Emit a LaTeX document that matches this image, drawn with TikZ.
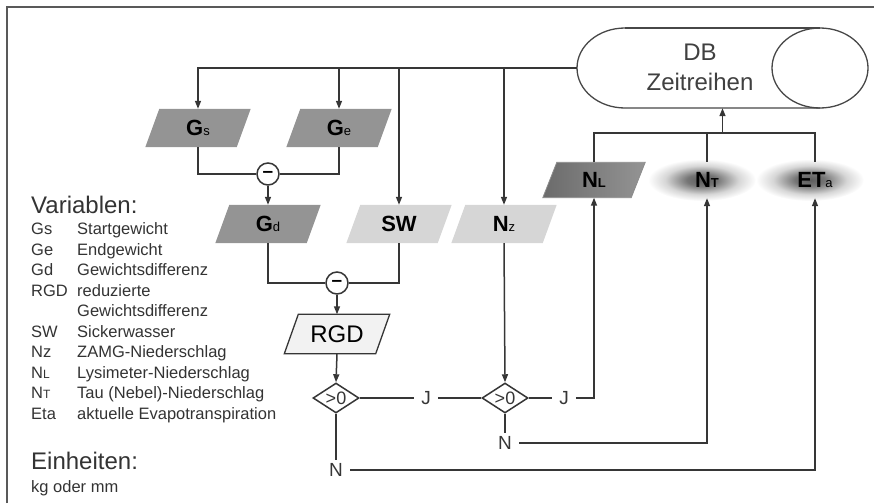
\documentclass[tikz,border=0pt]{standalone}
\usepackage{fontspec}
\setmainfont{Liberation Sans}
\usetikzlibrary{shapes.geometric,arrows.meta,calc}
\definecolor{ln}{HTML}{363636}
\newcommand\smallsub[1]{{\fontsize{13}{13}\selectfont #1}}
\pgfdeclareradialshading{blob}{\pgfpoint{0bp}{0bp}}{color(0bp)=(black!64); color(7bp)=(black!54); color(17bp)=(black!16); color(25bp)=(white); color(50bp)=(white)}
\pgfdeclarelayer{bg}
\pgfsetlayers{bg,main}
\newcommand\parashape[2]{\path[#2] ($(#1.south west)+(-7,0)$) -- ($(#1.north west)+(7,0)$) -- ($(#1.north east)+(7,0)$) -- ($(#1.south east)+(-7,0)$) -- cycle;}
\begin{document}
\begin{tikzpicture}[x=1pt,y=-1pt,
  line/.style={draw=ln, line width=1.5pt},
  arr/.style={line, -{Triangle[length=8pt,width=6pt]}},
  para/.style={rectangle, minimum width=91pt, minimum height=38pt, inner sep=0pt,
    font=\bfseries\fontsize{22}{22}\selectfont},
  minus/.style={circle, draw=ln, line width=1.5pt, fill=white, minimum size=22pt, inner sep=0pt,
    font=\bfseries\fontsize{19}{19}\selectfont},
  dec/.style={diamond, draw=ln, line width=1.5pt, fill=white, minimum width=46pt,
    minimum height=30pt, aspect=1.5, inner sep=0pt, font=\fontsize{18}{18}\selectfont, text=ln},
  lbl/.style={font=\fontsize{19}{19}\selectfont, text=ln, inner xsep=7pt, inner ysep=3pt},
  leg/.style={anchor=base west, inner sep=0pt, text=black!80, font=\fontsize{16.5}{16.5}\selectfont},
  blobnode/.style={minimum height=36pt, inner sep=0pt, font=\bfseries\fontsize{22}{22}\selectfont}
]
\useasboundingbox (0,0) rectangle (874,503);
\draw[draw=black!65, line width=1.5pt] (7,503) -- (7,7) -- (874,7);

% database cylinder
\node[minimum width=291pt, minimum height=80pt, inner sep=0pt] (db) at (722.5,68) {};
\draw[draw=black!72, line width=1.3pt] (625,28) arc[start angle=270, end angle=90, x radius=48, y radius=40] -- (820,108);
\draw[draw=black!72, line width=1.3pt] (625,28) -- (820,28);
\draw[draw=black!72, line width=1.3pt] (820,68) ellipse[x radius=48, y radius=40];
\node[text=black!75, align=center, font=\fontsize{24}{30}\selectfont] (dbt) at (700,67) {DB\\Zeitreihen};

% nodes
\node[para] (gs) at (198,128) {G\smallsub{\mdseries s}};
\node[para] (ge) at (339,128) {G\smallsub{\mdseries e}};
\node[minus] (m1) at (268,174) {–};
\node[para] (gd) at (268,224) {G\smallsub{\mdseries d}};
\node[para] (sw) at (399,224) {SW};
\node[para] (nz) at (504,224) {N\smallsub{\mdseries z}};
\node[minus] (m2) at (337,283) {–};
\node[para, minimum height=39pt, font=\fontsize{24}{24}\selectfont] (rgd) at (337,334) {RGD};
\node[dec] (d1) at (336,398) {>0};
\node[dec] (d2) at (505,398) {>0};
\node[lbl] (j1) at (426,398) {J};
\node[lbl] (j2) at (564,398) {J};
\node[lbl] (n2) at (505,443) {N};
\node[lbl] (n1) at (336,470) {N};
\node[para, minimum width=88pt, minimum height=35pt] (nl) at (594,180) {N\smallsub{L}};
\node[blobnode] (nt) at (707,180) {N\smallsub{T}};
\node[blobnode] (eta) at (815,180) {ET\smallsub{\mdseries a}};

% shapes behind the texts
\begin{pgfonlayer}{bg}
  \parashape{gs}{fill=black!42}
  \parashape{ge}{fill=black!42}
  \parashape{gd}{fill=black!42}
  \parashape{sw}{fill=black!16}
  \parashape{nz}{fill=black!16}
  \parashape{rgd}{fill=black!5, draw=ln, line width=1.3pt}
  \parashape{nl}{left color=black!58, middle color=black!24, right color=black!42, draw=black!45, line width=0.8pt}
  \shade[shading=blob] (702,180) ellipse[x radius=54, y radius=21];
  \shade[shading=blob] (810,180) ellipse[x radius=54, y radius=21];
\end{pgfonlayer}

% connectors from DB
\draw[arr] (db.west) -| (gs.north);
\draw[arr] (ge.north |- db.west) -- (ge.north);
\draw[arr] (sw.north |- db.west) -- (sw.north);
\draw[arr] (nz.north |- db.west) -- (nz.north);

\draw[line] (gs.south) |- (m1.west);
\draw[line] (ge.south) |- (m1.east);
\draw[arr] (m1.south) -- (gd.north);
\draw[line] (gd.south) |- (m2.west);
\draw[line] (sw.south) |- (m2.east);
\draw[arr] (m2.south) -- (rgd.north);
\draw[arr] (rgd.south) -- (d1.north);
\draw[arr] (nz.south) -- (d2.north);
\draw[line] (d1.east) -- (j1.west);
\draw[line] (j1.east) -- (d2.west);
\draw[line] (d2.east) -- (j2.west);
\draw[arr] (j2.east) -| (nl.south);
\draw[line] (d2.south) -- (n2.north);
\draw[arr] (n2.east) -| (nt.south);
\draw[line] (d1.south) -- (n1.north);
\draw[arr] (n1.east) -| (eta.south);
\coordinate (bus) at (722.5,133);
\draw[line] (nl.north) |- (eta.north |- bus) -- (eta.north);
\draw[line] (nt.north) -- (nt.north |- bus);
\draw[arr] (db.south |- bus) -- (db.south);

% legend
\node[leg, font=\fontsize{24}{24}\selectfont] (vt) at (31,213) {Variablen:};
\node[leg] (a1) at (31,234.5) {Gs};   \node[leg] (b1) at (77,234.5) {Startgewicht};
\node[leg] (a2) at (31,255) {Ge};     \node[leg] (b2) at (77,255) {Endgewicht};
\node[leg] (a3) at (31,275.5) {Gd};   \node[leg] (b3) at (77,275.5) {Gewichtsdifferenz};
\node[leg] (a4) at (31,296) {RGD};    \node[leg] (b4) at (77,296) {reduzierte};
\node[leg] (b5) at (77,316.5) {Gewichtsdifferenz};
\node[leg] (a6) at (31,337) {SW};     \node[leg] (b6) at (77,337) {Sickerwasser};
\node[leg] (a7) at (31,357.5) {Nz};   \node[leg] (b7) at (77,357.5) {ZAMG-Niederschlag};
\node[leg] (a8) at (31,378) {N{\fontsize{12}{12}\selectfont L}};   \node[leg] (b8) at (77,378) {Lysimeter-Niederschlag};
\node[leg] (a9) at (31,398.5) {N{\fontsize{12}{12}\selectfont T}}; \node[leg] (b9) at (77,398.5) {Tau (Nebel)-Niederschlag};
\node[leg] (a10) at (31,419) {Eta};   \node[leg] (b10) at (77,419) {aktuelle Evapotranspiration};
\node[leg, font=\fontsize{24}{24}\selectfont] (et) at (31,469) {Einheiten:};
\node[leg] (kg) at (31,492) {kg oder mm};
\end{tikzpicture}
\end{document}
